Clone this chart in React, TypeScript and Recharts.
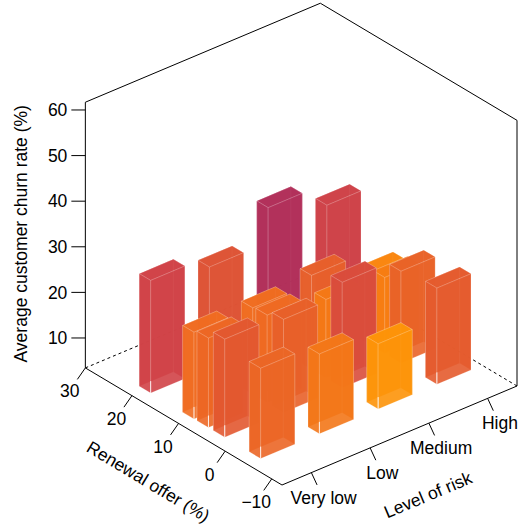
import React from "react";
import { ScatterChart, Scatter, XAxis, YAxis, ReferenceLine } from "recharts";

const riskLevels = ["Very low", "Low", "Medium", "High"];
const offerTicks = [30, 20, 10, 0, -10];
const churnTicks = [10, 20, 30, 40, 50, 60];
const offers = [19.85, 10.55, 7.45, 3.95, -3.75];

// one list per renewal offer, in order of riskLevels
const churnAt20 = [28.4, 25.9, 33.5, 28.6];
const churnAt10_7 = [22.7, 22.6, 24.3, 19.4];
const churnAt7_6 = [23.3, 22.9, 20.9, 20.3];
const churnAt4_1 = [25.2, 24.1, 26.8, 23.8];
const churnAtMinus3_6 = [23.5, 21.2, 18, 24.8];
const churnRows = [churnAt20, churnAt10_7, churnAt7_6, churnAt4_1, churnAtMinus3_6];

const W = 528;
const H = 531;
const FONT = "'Liberation Sans', Arial, sans-serif";
const FONT_SIZE = 17.5;

// oblique projection of the box, in page pixels
const ORIGIN = { u: 282, v: 485 };
const CAT_STEP = { u: 58.75, v: -24.75 };
const OFFER_STEP = { u: -4.66, v: -2.775 };
const Z_STEP = 4.56;
const CAT_MIN = 0.5;
const CAT_MAX = 4.5;
const OFFER_MIN = -12.2;
const OFFER_MAX = 30;
const Z_MIN = 3.44;
const Z_MAX = 61.7;
const BAR_CAT = 0.29;
const BAR_OFFER = 1.22;
const BAR_BASE = Z_MIN + 0.25;

const project = (cat: number, offer: number, z: number) => ({
  u: ORIGIN.u + (cat - CAT_MIN) * CAT_STEP.u + (offer - OFFER_MIN) * OFFER_STEP.u,
  v: ORIGIN.v + (cat - CAT_MIN) * CAT_STEP.v + (offer - OFFER_MIN) * OFFER_STEP.v - (z - Z_MIN) * Z_STEP,
});

const leftCorner = project(CAT_MIN, OFFER_MAX, Z_MIN);
const rightCorner = project(CAT_MAX, OFFER_MIN, Z_MIN);
const frontCorner = project(CAT_MIN, OFFER_MIN, Z_MIN);
const backCorner = project(CAT_MAX, OFFER_MAX, Z_MIN);
const leftTop = project(CAT_MIN, OFFER_MAX, Z_MAX);
const rightTop = project(CAT_MAX, OFFER_MIN, Z_MAX);
const backTop = project(CAT_MAX, OFFER_MAX, Z_MAX);

const zeroPx = leftCorner.v + Z_MIN * Z_STEP;
const churnDomain = [(zeroPx - H) / Z_STEP, zeroPx / Z_STEP];

const colorStops: [number, number[]][] = [
  [18, [253, 147, 9]],
  [20.2, [246, 126, 18]],
  [22.7, [239, 108, 33]],
  [25.2, [226, 88, 48]],
  [28.5, [207, 66, 72]],
  [33.5, [177, 48, 90]],
];

const churnColor = (z: number) => {
  let i = 0;
  while (i < colorStops.length - 2 && z > colorStops[i + 1][0]) i++;
  const [z0, c0] = colorStops[i];
  const [z1, c1] = colorStops[i + 1];
  const t = (z - z0) / (z1 - z0);
  const c = c0.map((a, k) => Math.round(a + (c1[k] - a) * t));
  return `rgb(${c[0]},${c[1]},${c[2]})`;
};

// back to front so the painter's order is right
const bars = offers.flatMap((offer, r) =>
  riskLevels
    .map((_, c) => {
      const p = project(c + 1, offer, BAR_BASE);
      return { u: p.u, v: p.v, cat: c + 1, offer, churn: churnRows[r][c] };
    })
    .reverse()
);

// the value axis needs a series bound to it to draw its ticks
const churnAxisPoints = churnTicks.map((t) => ({ u: leftCorner.u, churn: t }));

const TICK_OFFER = { u: -8, v: 11.5 };
const TICK_RISK = { u: 5.7, v: 12.3 };

const offerLabels = offerTicks.map((t) => {
  const p = project(CAT_MIN, t, Z_MIN);
  return { u: p.u, v: p.v, text: String(t).replace("-", "\u2212"), dx: -15.5, dy: 23.5, angle: 0 };
});
const riskLabels = riskLevels.map((t, i) => {
  const p = project(i + 1, OFFER_MIN, Z_MIN);
  return { u: p.u, v: p.v, text: t, dx: 12.3, dy: 25, angle: 0 };
});
const offerMid = project(CAT_MIN, 9, Z_MIN);
const riskMid = project(2.5, OFFER_MIN, Z_MIN);
const titles = [
  { u: offerMid.u, v: offerMid.v, text: "Renewal offer (%)", dx: -35, dy: 55.5, angle: 31 },
  { u: riskMid.u, v: riskMid.v, text: "Level of risk", dx: 28.5, dy: 59.5, angle: -22.8 },
];
const labels = [...offerLabels, ...riskLabels, ...titles];

const poly = (pts: { u: number; v: number }[], dx: number, dy: number) =>
  pts.map((p) => `${p.u + dx},${p.v + dy}`).join(" ");

const BarBox = (props: any) => {
  const { cx, cy, payload } = props;
  const { cat, offer, churn, u, v } = payload;
  const dx = cx - u;
  const dy = cy - v;
  const fill = churnColor(churn);
  const corner = (a: number, b: number, z: number) =>
    project(cat + a * BAR_CAT, offer + b * BAR_OFFER, z);
  const bA = corner(-1, -1, BAR_BASE);
  const bB = corner(1, -1, BAR_BASE);
  const bC = corner(1, 1, BAR_BASE);
  const bD = corner(-1, 1, BAR_BASE);
  const tA = corner(-1, -1, churn);
  const tB = corner(1, -1, churn);
  const tC = corner(1, 1, churn);
  const tD = corner(-1, 1, churn);
  const faces = [
    [bD, bC, tC, tD],
    [bC, bB, tB, tC],
    [tA, tB, tC, tD],
    [bD, bA, tA, tD],
    [bA, bB, tB, tA],
  ];
  return (
    <g>
      {faces.map((f, i) => (
        <polygon
          key={i}
          points={poly(f, dx, dy)}
          fill={fill}
          fillOpacity={0.9}
          stroke="#fff"
          strokeOpacity={0.2}
          strokeWidth={0.9}
          strokeLinejoin="round"
        />
      ))}
      <line
        x1={bA.u + dx}
        y1={bA.v + dy}
        x2={bA.u + dx}
        y2={bA.v + dy - 12}
        stroke="#fff"
        strokeOpacity={0.8}
        strokeWidth={1}
      />
    </g>
  );
};

const AxisText = (props: any) => {
  const { cx, cy, payload } = props;
  const x = cx + payload.dx;
  const y = cy + payload.dy;
  return (
    <text
      x={x}
      y={y}
      textAnchor="middle"
      dominantBaseline="central"
      fontSize={FONT_SIZE}
      fontFamily={FONT}
      fill="#000"
      transform={payload.angle ? `rotate(${payload.angle} ${x} ${y})` : undefined}
    >
      {payload.text}
    </text>
  );
};

const edge = (a: { u: number; v: number }, b: { u: number; v: number }, key: string, dashed = false) => (
  <ReferenceLine
    key={key}
    xAxisId="screen"
    yAxisId="screen"
    ifOverflow="visible"
    segment={[
      { x: a.u, y: a.v },
      { x: b.u, y: b.v },
    ]}
    stroke="#000"
    strokeWidth={1}
    strokeDasharray={dashed ? "3 3" : undefined}
  />
);

export default function App() {
  return (
    <div style={{ position: "absolute", left: 0, top: 0, width: W, height: H, background: "#fff" }}>
      <ScatterChart width={W} height={H} margin={{ top: 0, right: 0, bottom: 0, left: 0 }}>
        <XAxis xAxisId="screen" type="number" dataKey="u" domain={[leftCorner.u, W]} hide />
        <YAxis yAxisId="screen" type="number" dataKey="v" domain={[0, H]} reversed hide />
        <YAxis
          yAxisId="churn"
          type="number"
          dataKey="churn"
          domain={churnDomain}
          ticks={churnTicks}
          interval={0}
          width={leftCorner.u}
          axisLine={false}
          tickSize={14}
          tickMargin={4}
          tickLine={{ stroke: "#000", strokeWidth: 1 }}
          tick={{ fill: "#000", fontSize: FONT_SIZE, fontFamily: FONT }}
          label={{
            value: "Average customer churn rate (%)",
            angle: -90,
            position: "insideLeft",
            offset: 0,
            dx: 21,
            dy: 97,
            style: { fill: "#000", fontSize: FONT_SIZE, fontFamily: FONT },
          }}
        />
        <Scatter
          xAxisId="screen"
          yAxisId="churn"
          data={churnAxisPoints}
          dataKey="churn"
          shape={() => <g />}
          isAnimationActive={false}
        />
        {edge(leftCorner, backCorner, "floor-left", true)}
        {edge(rightCorner, backCorner, "floor-right", true)}
        {edge(leftCorner, frontCorner, "front-left")}
        {edge(frontCorner, rightCorner, "front-right")}
        {edge(leftCorner, leftTop, "vert-left")}
        {edge(rightCorner, rightTop, "vert-right")}
        {edge(leftTop, backTop, "top-left")}
        {edge(backTop, rightTop, "top-right")}
        {offerTicks.map((t) => {
          const p = project(CAT_MIN, t, Z_MIN);
          return edge(p, { u: p.u + TICK_OFFER.u, v: p.v + TICK_OFFER.v }, `offer-${t}`);
        })}
        {riskLevels.map((t, i) => {
          const p = project(i + 1, OFFER_MIN, Z_MIN);
          return edge(p, { u: p.u + TICK_RISK.u, v: p.v + TICK_RISK.v }, `risk-${t}`);
        })}
        <Scatter
          xAxisId="screen"
          yAxisId="screen"
          data={bars}
          dataKey="v"
          shape={BarBox}
          isAnimationActive={false}
        />
        <Scatter
          xAxisId="screen"
          yAxisId="screen"
          data={labels}
          dataKey="v"
          shape={AxisText}
          isAnimationActive={false}
        />
      </ScatterChart>
    </div>
  );
}
